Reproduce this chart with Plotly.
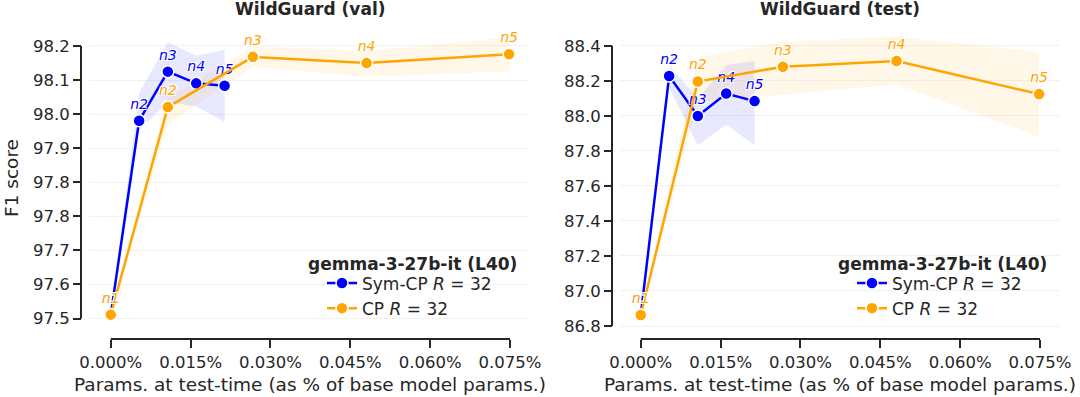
import plotly.graph_objects as go

# x positions (% of base model params) and point labels
sym_x = [0.0, 0.00533, 0.01072, 0.01605, 0.02138]
cp_x = [0.0, 0.01072, 0.02670, 0.04805, 0.07482]
n_labels = ['n1', 'n2', 'n3', 'n4', 'n5']

# WildGuard (val)
val_sym = [97.510, 98.008, 98.134, 98.104, 98.098]
val_sym_lo = [97.510, 97.985, 98.055, 98.045, 98.005]
val_sym_hi = [97.510, 98.080, 98.210, 98.175, 98.190]
val_cp = [97.510, 98.043, 98.172, 98.156, 98.179]
val_cp_lo = [97.510, 98.000, 98.147, 98.121, 98.135]
val_cp_hi = [97.510, 98.065, 98.200, 98.187, 98.222]

# WildGuard (test)
test_sym = [86.863, 88.227, 87.999, 88.127, 88.084]
test_sym_lo = [86.863, 88.160, 87.830, 87.950, 87.830]
test_sym_hi = [86.863, 88.290, 88.100, 88.290, 88.315]
test_cp = [86.863, 88.196, 88.280, 88.313, 88.124]
test_cp_lo = [86.863, 88.080, 88.120, 88.180, 87.880]
test_cp_hi = [86.863, 88.335, 88.423, 88.451, 88.366]

# ticks
x_ticks = [0.0, 0.015, 0.030, 0.045, 0.060, 0.075]
x_ticktext = ['0.000%', '0.015%', '0.030%', '0.045%', '0.060%', '0.075%']
val_yticks = [97.5, 97.5875, 97.675, 97.7625, 97.85, 97.9375, 98.025, 98.1125, 98.2]
val_yticktext = ['97.5', '97.6', '97.7', '97.8', '97.8', '97.9', '98.0', '98.1', '98.2']
test_yticks = [86.8, 87.0, 87.2, 87.4, 87.6, 87.8, 88.0, 88.2, 88.4]
test_yticktext = ['86.8', '87.0', '87.2', '87.4', '87.6', '87.8', '88.0', '88.2', '88.4']

BLUE = '#0000ff'
ORANGE = '#ffa500'
DARK = '#262626'
FONT = 'DejaVu Sans'
W, H = 1080, 397
halo = '1px 1px 0 white, -1px -1px 0 white, 1px -1px 0 white, -1px 1px 0 white'

fig = go.Figure()

panels = [
    ('x', 'y', 'legend', val_sym, val_sym_lo, val_sym_hi, val_cp, val_cp_lo, val_cp_hi),
    ('x2', 'y2', 'legend2', test_sym, test_sym_lo, test_sym_hi, test_cp, test_cp_lo, test_cp_hi),
]

for xa, ya, lg, s, s_lo, s_hi, c, c_lo, c_hi in panels:
    # shaded bands
    for xs, lo, hi, col in [(sym_x, s_lo, s_hi, 'rgba(0,0,255,0.09)'),
                            (cp_x, c_lo, c_hi, 'rgba(255,165,0,0.09)')]:
        fig.add_trace(go.Scatter(
            x=xs + xs[::-1], y=hi + lo[::-1], fill='toself', fillcolor=col,
            line=dict(width=0), mode='lines', hoverinfo='skip',
            showlegend=False, xaxis=xa, yaxis=ya))
    for xs, ys, col, name in [(sym_x, s, BLUE, 'Sym-CP <i>R</i> = 32'),
                              (cp_x, c, ORANGE, 'CP <i>R</i> = 32')]:
        fig.add_trace(go.Scatter(
            x=xs, y=ys, mode='lines+markers+text', name=name,
            text=n_labels, textposition='top center',
            textfont=dict(family=FONT, size=14, color=col, style='italic', shadow=halo),
            line=dict(color=col, width=2.5),
            marker=dict(size=12, color=col, line=dict(color='white', width=1.5)),
            xaxis=xa, yaxis=ya, legend=lg))

ydom = [(H - 329.5) / H, (H - 23.5) / H]
xpos = (H - 339) / H

axis_common = dict(
    ticks='outside', ticklen=8, tickwidth=2, tickcolor=DARK,
    showline=False, zeroline=False, anchor='free', automargin=False,
    tickfont=dict(family=FONT, size=16.5, color=DARK),
)

xaxis_cfg = dict(axis_common, range=[-0.0039, 0.07875], showgrid=False,
                 tickvals=x_ticks, ticktext=x_ticktext, position=xpos)

legend_cfg = dict(y=(H - 265.5) / H, xanchor='left', yanchor='top',
                  bgcolor='rgba(0,0,0,0)', font=dict(family=FONT, size=17, color=DARK),
                  itemwidth=30, tracegroupgap=0)

fig.update_layout(
    template='none',
    width=W, height=H,
    margin=dict(l=0, r=0, t=0, b=0),
    paper_bgcolor='white', plot_bgcolor='white',
    font=dict(family=FONT, color=DARK),
    xaxis=dict(xaxis_cfg, domain=[90 / W, 530 / W]),
    xaxis2=dict(xaxis_cfg, domain=[620 / W, 1060 / W]),
    yaxis=dict(axis_common, domain=ydom, range=[97.4718, 98.2577], position=81 / W,
               tickvals=val_yticks, ticktext=val_yticktext,
               showgrid=True, gridcolor='#f2f2f2', gridwidth=1),
    yaxis2=dict(axis_common, domain=ydom, range=[86.780, 88.527], position=612 / W,
                tickvals=test_yticks, ticktext=test_yticktext,
                showgrid=True, gridcolor='#f2f2f2', gridwidth=1),
    legend=dict(legend_cfg, x=322 / W),
    legend2=dict(legend_cfg, x=852 / W),
    showlegend=True,
)

# trimmed spines (seaborn-style despine with offset)
for xa, ya, xdom_pos, yt in [('x', 'y', 81 / W, val_yticks), ('x2', 'y2', 612 / W, test_yticks)]:
    fig.add_shape(type='line', xref='paper', yref=ya, x0=xdom_pos, x1=xdom_pos,
                  y0=yt[0], y1=yt[-1], line=dict(color=DARK, width=2))
    fig.add_shape(type='line', xref=xa, yref='paper', x0=x_ticks[0], x1=x_ticks[-1],
                  y0=xpos, y1=xpos, line=dict(color=DARK, width=2))

# subplot titles, axis titles and legend titles
for cx, title in [(310, 'WildGuard (val)'), (840, 'WildGuard (test)')]:
    fig.add_annotation(x=cx / W, y=1 - 9 / H, xref='paper', yref='paper',
                       text='<b>' + title + '</b>', showarrow=False,
                       font=dict(family=FONT, size=17, color=DARK),
                       xanchor='center', yanchor='middle')
    fig.add_annotation(x=cx / W, y=1 - 384 / H, xref='paper', yref='paper',
                       text='Params. at test-time (as % of base model params.)', showarrow=False,
                       font=dict(family=FONT, size=18.5, color=DARK),
                       xanchor='center', yanchor='middle')
fig.add_annotation(x=11 / W, y=1 - 178 / H, xref='paper', yref='paper',
                   text='F1 score', textangle=-90, showarrow=False,
                   font=dict(family=FONT, size=18.5, color=DARK),
                   xanchor='center', yanchor='middle')
for cx in [412.5, 942.5]:
    fig.add_annotation(x=cx / W, y=1 - 264 / H, xref='paper', yref='paper',
                       text='<b>gemma-3-27b-it (L40)</b>', showarrow=False,
                       font=dict(family=FONT, size=17, color=DARK),
                       xanchor='center', yanchor='middle')

# page body has a default 8px margin; drop it so the figure fills the window
fig.write_html('out.html', config={'displayModeBar': False},
               post_script="document.body.style.margin='0px';")
